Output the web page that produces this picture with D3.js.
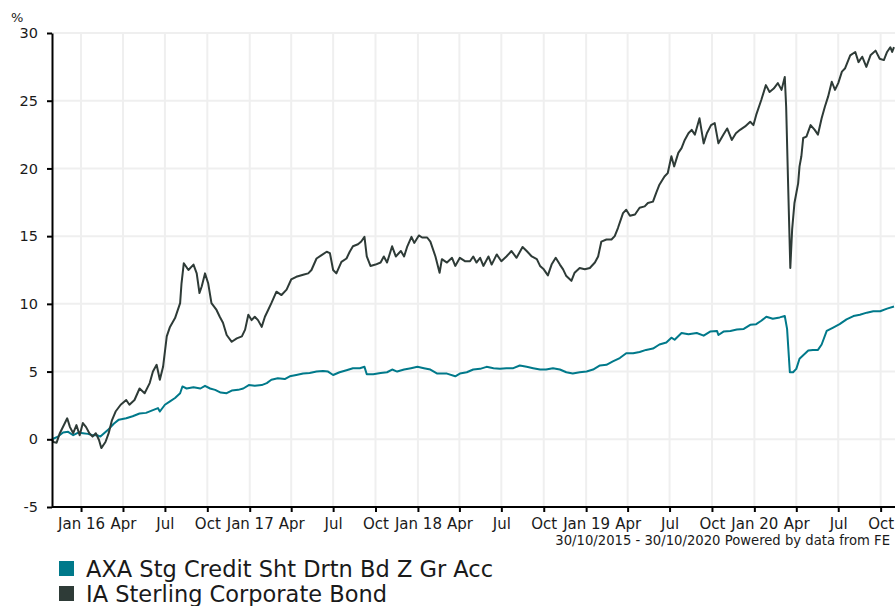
<!DOCTYPE html>
<html>
    <head>
        <meta charset="utf-8">
        <style>
         body {
             margin: 0;
             background-color: #ffffff;
         }
         svg text {
             font-family: "DejaVu Sans", Verdana, sans-serif;
             fill: #1a1a1a;
         }
         .grid line {
             stroke: #efefef;
             stroke-width: 2;
         }
         .axis path, .axis line {
             stroke: #000000;
             stroke-width: 2;
         }
         .series {
             fill: none;
             stroke-width: 2;
             stroke-linejoin: round;
         }
        </style>
        <script src="https://d3js.org/d3.v7.min.js"></script>
    </head>
    <body>
        <svg id="chart" width="895" height="606"></svg>
        <script>
         // fund performance, % growth
         var seriesNames = ["AXA Stg Credit Sht Drtn Bd Z Gr Acc", "IA Sterling Corporate Bond"];
         var seriesColors = ["#00798a", "#2e3b37"];
         var yTicks = [-5, 0, 5, 10, 15, 20, 25, 30];
         var period = ["2015-10-30", "2020-10-30"];
         var footer = "30/10/2015 - 30/10/2020 Powered by data from FE";

         var axaDates = ["2015-10-30","2015-11-12","2015-11-23","2015-12-04","2015-12-15","2015-12-26",
             "2016-01-05","2016-01-16","2016-01-26","2016-02-05","2016-02-12","2016-02-20","2016-03-01",
             "2016-03-12","2016-03-23","2016-04-08","2016-04-22","2016-05-07","2016-05-21","2016-06-05",
             "2016-06-16","2016-06-20","2016-07-01","2016-07-12","2016-07-23","2016-08-03","2016-08-08",
             "2016-08-17","2016-09-01","2016-09-16","2016-09-26","2016-10-07","2016-10-18","2016-10-30",
             "2016-11-12","2016-11-23","2016-12-07","2016-12-18","2016-12-30","2017-01-12","2017-01-27",
             "2017-02-07","2017-02-17","2017-03-03","2017-03-18","2017-03-29","2017-04-12","2017-04-27",
             "2017-05-11","2017-05-26","2017-06-09","2017-06-20","2017-07-01","2017-07-15","2017-07-30",
             "2017-08-13","2017-08-28","2017-09-07","2017-09-12","2017-09-26","2017-10-12","2017-10-26",
             "2017-11-06","2017-11-17","2017-12-02","2017-12-17","2017-12-31","2018-01-14","2018-01-28",
             "2018-02-12","2018-02-22","2018-03-05","2018-03-23","2018-04-02","2018-04-17","2018-05-01",
             "2018-05-16","2018-05-30","2018-06-14","2018-06-28","2018-07-12","2018-07-27","2018-08-10",
             "2018-08-25","2018-09-08","2018-09-23","2018-10-06","2018-10-21","2018-11-05","2018-11-19",
             "2018-12-03","2018-12-18","2019-01-02","2019-01-16","2019-01-31","2019-02-14","2019-02-28",
             "2019-03-15","2019-03-29","2019-04-13","2019-04-27","2019-05-11","2019-05-26","2019-06-09",
             "2019-06-24","2019-07-05","2019-07-12","2019-07-27","2019-08-11","2019-08-29","2019-09-13",
             "2019-09-27","2019-10-12","2019-10-15","2019-10-26","2019-11-10","2019-11-24","2019-12-09",
             "2019-12-23","2020-01-05","2020-01-16","2020-01-27","2020-02-10","2020-02-25","2020-03-07",
             "2020-03-12","2020-03-18","2020-03-25","2020-04-01","2020-04-08","2020-04-16","2020-04-27",
             "2020-05-07","2020-05-18","2020-05-26","2020-06-06","2020-06-20","2020-07-04","2020-07-19",
             "2020-08-03","2020-08-17","2020-09-01","2020-09-15","2020-09-30","2020-10-15","2020-10-30"];
         var axaValues = [0, 0.2, 0.5, 0.55, 0.3, 0.5,
             0.45, 0.4, 0.3, 0.3, 0.2, 0.45, 0.75,
             1.15, 1.45, 1.55, 1.7, 1.9, 1.95, 2.15,
             2.3, 2.05, 2.55, 2.8, 3.05, 3.4, 3.9,
             3.75, 3.85, 3.75, 3.95, 3.75, 3.65, 3.45,
             3.4, 3.6, 3.65, 3.75, 4.0, 3.95, 4.0,
             4.15, 4.4, 4.5, 4.45, 4.65, 4.75, 4.85,
             4.9, 5.0, 5.05, 5.0, 4.75, 4.95, 5.1,
             5.25, 5.25, 5.35, 4.8, 4.8, 4.9, 4.95,
             5.15, 5.0, 5.15, 5.25, 5.35, 5.25, 5.15,
             4.85, 4.85, 4.85, 4.65, 4.85, 4.95, 5.15,
             5.2, 5.35, 5.25, 5.2, 5.25, 5.25, 5.45,
             5.35, 5.25, 5.15, 5.15, 5.25, 5.15, 4.95,
             4.85, 4.95, 5.0, 5.15, 5.45, 5.5, 5.75,
             6.0, 6.35, 6.35, 6.45, 6.6, 6.7, 7.0,
             7.15, 7.5, 7.35, 7.85, 7.75, 7.85, 7.65,
             7.95, 8.0, 7.7, 7.95, 8.0, 8.1, 8.15,
             8.45, 8.5, 8.75, 9.05, 8.9, 9.0, 9.1,
             8.15, 4.95, 4.95, 5.2, 5.95, 6.2, 6.55,
             6.6, 6.6, 7.0, 8.0, 8.25, 8.5, 8.85,
             9.1, 9.2, 9.35, 9.45, 9.45, 9.65, 9.8];

         var iaDates = ["2015-10-30","2015-11-02","2015-11-09","2015-11-16","2015-11-27","2015-12-02",
             "2015-12-08","2015-12-15","2015-12-22","2015-12-29","2016-01-05","2016-01-12","2016-01-19",
             "2016-01-26","2016-02-02","2016-02-09","2016-02-14","2016-02-23","2016-03-01","2016-03-08",
             "2016-03-16","2016-03-27","2016-04-08","2016-04-15","2016-04-26","2016-05-07","2016-05-18",
             "2016-05-29","2016-06-05","2016-06-13","2016-06-20","2016-06-27","2016-07-05","2016-07-12",
             "2016-07-23","2016-08-03","2016-08-06","2016-08-11","2016-08-21","2016-09-01","2016-09-08",
             "2016-09-14","2016-09-19","2016-09-26","2016-10-03","2016-10-10","2016-10-21","2016-10-28",
             "2016-11-04","2016-11-12","2016-11-23","2016-12-04","2016-12-15","2016-12-22","2016-12-29",
             "2017-01-05","2017-01-12","2017-01-19","2017-01-27","2017-02-03","2017-02-10","2017-02-17",
             "2017-02-28","2017-03-11","2017-03-22","2017-04-01","2017-04-12","2017-04-27","2017-05-08",
             "2017-05-15","2017-05-26","2017-06-06","2017-06-17","2017-06-24","2017-07-01","2017-07-08",
             "2017-07-19","2017-07-30","2017-08-06","2017-08-13","2017-08-24","2017-08-31","2017-09-07",
             "2017-09-12","2017-09-20","2017-10-01","2017-10-12","2017-10-19","2017-10-26","2017-11-06",
             "2017-11-14","2017-11-25","2017-12-02","2017-12-09","2017-12-18","2017-12-24","2018-01-03",
             "2018-01-10","2018-01-21","2018-01-28","2018-02-08","2018-02-17","2018-02-22","2018-03-05",
             "2018-03-16","2018-03-23","2018-04-02","2018-04-13","2018-04-24","2018-05-01","2018-05-08",
             "2018-05-16","2018-05-23","2018-06-03","2018-06-10","2018-06-21","2018-07-01","2018-07-12",
             "2018-07-23","2018-08-03","2018-08-16","2018-08-25","2018-09-05","2018-09-16","2018-09-23",
             "2018-10-01","2018-10-10","2018-10-18","2018-10-27","2018-11-05","2018-11-12","2018-11-19",
             "2018-11-30","2018-12-07","2018-12-18","2018-12-29","2019-01-09","2019-01-20","2019-01-27",
             "2019-02-03","2019-02-14","2019-02-25","2019-03-04","2019-03-11","2019-03-22","2019-03-29",
             "2019-04-06","2019-04-17","2019-04-27","2019-05-08","2019-05-15","2019-05-26","2019-06-02",
             "2019-06-09","2019-06-20","2019-06-27","2019-07-05","2019-07-11","2019-07-20","2019-07-27",
             "2019-08-03","2019-08-11","2019-08-18","2019-08-25","2019-09-04","2019-09-13","2019-09-20",
             "2019-09-29","2019-10-07","2019-10-15","2019-10-26","2019-11-03","2019-11-13","2019-11-22",
             "2019-12-01","2019-12-12","2019-12-23","2019-12-30","2020-01-05","2020-01-16","2020-01-26",
             "2020-02-03","2020-02-12","2020-02-21","2020-02-29","2020-03-07","2020-03-10","2020-03-14",
             "2020-03-19","2020-03-23","2020-03-28","2020-04-05","2020-04-08","2020-04-12","2020-04-16",
             "2020-04-23","2020-05-02","2020-05-11","2020-05-18","2020-05-26","2020-06-02","2020-06-09",
             "2020-06-17","2020-06-24","2020-07-01","2020-07-09","2020-07-16","2020-07-27","2020-08-07",
             "2020-08-14","2020-08-22","2020-08-31","2020-09-09","2020-09-20","2020-09-29","2020-10-08",
             "2020-10-15","2020-10-22","2020-10-26","2020-10-30"];
         var iaValues = [0, -0.2, -0.25, 0.45, 1.2, 1.55,
             0.9, 0.45, 1.05, 0.3, 1.2, 0.9, 0.45,
             0.2, 0.45, -0.05, -0.65, -0.2, 0.45, 1.4,
             2.05, 2.55, 2.9, 2.55, 2.9, 3.75, 3.4,
             4.15, 5.0, 5.5, 4.4, 5.35, 7.6, 8.3,
             8.95, 10.05, 11.5, 13.0, 12.5, 12.9, 12.25,
             10.8, 11.3, 12.25, 11.5, 10.05, 9.55, 9.05,
             8.6, 7.7, 7.2, 7.45, 7.6, 8.1, 9.2,
             8.8, 9.05, 8.8, 8.3, 9.05, 9.55, 10.05,
             10.9, 10.65, 11.05, 11.8, 12.0, 12.15, 12.25,
             12.5, 13.35, 13.6, 13.85, 13.75, 12.5, 12.25,
             13.1, 13.35, 13.85, 14.25, 14.4, 14.6, 14.95,
             13.5, 12.8, 12.9, 13.05, 13.5, 13.05, 14.25,
             13.5, 13.9, 13.5, 14.25, 14.95, 14.5, 15.05,
             14.9, 14.9, 14.6, 13.5, 12.3, 13.3, 13.05,
             13.4, 12.8, 13.4, 13.15, 13.15, 13.5, 13.05,
             13.4, 12.8, 13.5, 12.9, 13.65, 13.15, 13.5,
             13.9, 13.4, 14.2, 13.9, 13.5, 13.3, 12.8,
             12.55, 12.1, 12.9, 13.4, 12.9, 12.55, 12.05,
             11.7, 12.3, 12.65, 12.55, 12.65, 13.05, 13.5,
             14.6, 14.75, 14.75, 15.0, 15.6, 16.7, 16.95,
             16.5, 16.6, 17.1, 17.2, 17.45, 17.55, 18.2,
             18.8, 19.4, 19.65, 20.9, 20.15, 21.15, 21.5,
             22.1, 22.6, 22.85, 22.5, 23.7, 21.85, 22.6,
             23.2, 23.35, 21.85, 22.5, 22.95, 22.1, 22.6,
             22.85, 23.1, 23.45, 23.2, 23.95, 25.05, 26.15,
             25.65, 25.9, 26.3, 25.8, 26.75, 24.55, 19.15,
             12.65, 15.5, 17.45, 18.9, 20.15, 20.9, 22.25,
             22.35, 23.2, 22.85, 22.5, 23.7, 24.55, 25.3,
             26.4, 25.8, 26.3, 27.15, 27.4, 28.35, 28.6,
             27.85, 28.25, 27.5, 28.35, 28.7, 28.1, 28.0,
             28.6, 28.95, 28.6, 28.95];

         var parseDate = d3.timeParse("%Y-%m-%d");
         var series = [
             {name: seriesNames[0], color: seriesColors[0],
              values: axaDates.map(function(d, i) { return {date: parseDate(d), value: axaValues[i]}; })},
             {name: seriesNames[1], color: seriesColors[1],
              values: iaDates.map(function(d, i) { return {date: parseDate(d), value: iaValues[i]}; })}
         ];

         var svg = d3.select("#chart"),
             plotLeft = 52, plotRight = 894, plotTop = 33, plotBottom = 507;

         var x = d3.scaleTime().domain(period.map(parseDate)).range([plotLeft, plotRight]),
             y = d3.scaleLinear().domain([-5, 30]).range([plotBottom, plotTop]);

         var xTicks = x.ticks(d3.timeMonth.every(3));
         var fmt = function(d) {
             return d.getMonth() === 0 ? d3.timeFormat("%b %y")(d) : d3.timeFormat("%b")(d);
         };

         // grid
         var grid = svg.append("g").attr("class", "grid");
         grid.selectAll(".h").data(yTicks.slice(1)).enter().append("line")
             .attr("x1", plotLeft).attr("x2", 895)
             .attr("y1", function(d) { return y(d); })
             .attr("y2", function(d) { return y(d); });
         grid.selectAll(".v").data(xTicks).enter().append("line")
             .attr("x1", function(d) { return x(d); })
             .attr("x2", function(d) { return x(d); })
             .attr("y1", plotTop).attr("y2", plotBottom);

         var line = d3.line()
             .x(function(d) { return x(d.date); })
             .y(function(d) { return y(d.value); });

         svg.selectAll(".series").data(series).enter().append("path")
             .attr("class", "series")
             .attr("stroke", function(d) { return d.color; })
             .attr("d", function(d) { return line(d.values); });

         // axes
         var yAxis = svg.append("g")
             .attr("class", "axis")
             .attr("transform", "translate(" + plotLeft + ",0)")
             .call(d3.axisLeft(y).tickValues(yTicks)
                 .tickFormat(function(d) { return String(d); })
                 .tickSize(5).tickSizeOuter(0).tickPadding(9));
         yAxis.selectAll("text").style("font-size", "14.5px");

         var xAxis = svg.append("g")
             .attr("class", "axis")
             .attr("transform", "translate(0," + plotBottom + ")")
             .call(d3.axisBottom(x).tickValues(xTicks).tickFormat(fmt).tickSize(5).tickSizeOuter(0).tickPadding(6));
         xAxis.select(".domain").attr("d", "M" + plotLeft + ",0H895");
         xAxis.selectAll("text").style("font-size", "15px");
         svg.selectAll(".axis text").attr("fill", "#1a1a1a");

         svg.append("text")
            .attr("x", 11).attr("y", 22)
            .style("font-size", "13px")
            .text("%");

         svg.append("text")
            .attr("x", 890).attr("y", 545)
            .attr("text-anchor", "end")
            .style("font-size", "13.2px")
            .text(footer);

         // legend
         var legend = svg.selectAll(".legend").data(series).enter().append("g")
             .attr("class", "legend")
             .attr("transform", function(d, i) { return "translate(59," + (561 + i * 25) + ")"; });
         legend.append("rect")
             .attr("width", 15).attr("height", 15)
             .attr("fill", function(d) { return d.color; });
         legend.append("text")
             .attr("x", 27).attr("y", 16)
             .style("font-size", "22.5px")
             .text(function(d) { return d.name; });
        </script>
    </body>
</html>
